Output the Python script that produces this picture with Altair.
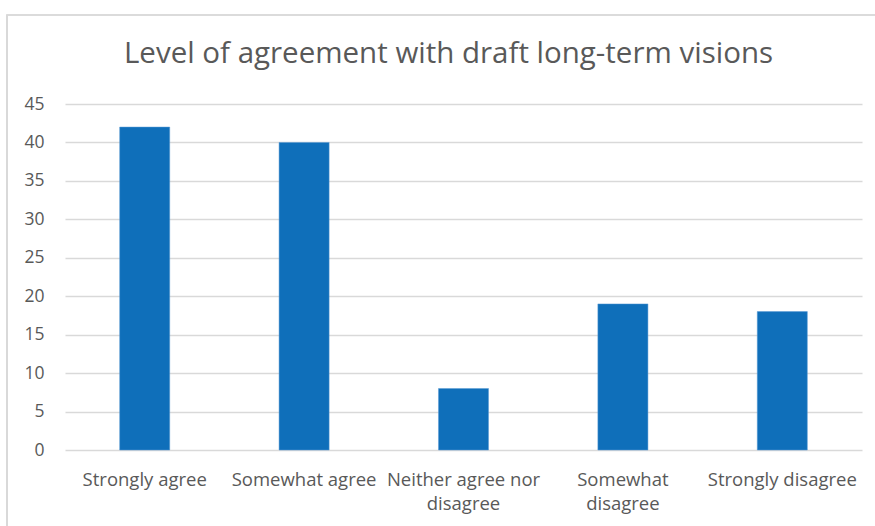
import altair as alt
import pandas as pd

categories = ["Strongly agree", "Somewhat agree", "Neither agree nor disagree",
              "Somewhat disagree", "Strongly disagree"]
values = [42, 40, 8, 19, 18]

df = pd.DataFrame({"category": categories, "value": values})

FONT = "Open Sans"
GREY = "#595959"

label_expr = ("datum.label == 'Neither agree nor disagree' ? ['Neither agree nor', 'disagree'] : "
              "datum.label == 'Somewhat disagree' ? ['Somewhat', 'disagree'] : datum.label")

bars = alt.Chart(df).mark_bar(color="#0F6FBA", stroke="#5B9BD5", strokeWidth=0.5).encode(
    x=alt.X("category:N", sort=categories,
            scale=alt.Scale(paddingInner=0.686, paddingOuter=0.343),
            axis=alt.Axis(title=None, labelAngle=0, labelExpr=label_expr,
                          labelFont=FONT, labelFontSize=18.5, labelColor=GREY,
                          labelPadding=20, labelLineHeight=24,
                          ticks=False, domain=False, labelLimit=200)),
    y=alt.Y("value:Q", scale=alt.Scale(domain=[0, 45]),
            axis=alt.Axis(title=None, values=list(range(0, 46, 5)),
                          labelFont=FONT, labelFontSize=17.5, labelColor=GREY,
                          labelPadding=21, ticks=False, domain=False,
                          gridColor="#D9D9D9", gridWidth=1.3)),
)

border = alt.Chart(df).mark_rect(fill=None, stroke="#D9D9D9", strokeWidth=1.2).encode(
    x=alt.value(-58), x2=alt.value(830), y=alt.value(-89), y2=alt.value(440)
)

chart = alt.layer(bars, border).properties(
    width=797, height=346,
    padding={"left": 65, "top": 104, "right": 13, "bottom": 76},
    autosize=alt.AutoSizeParams(type="none"),
    title=alt.TitleParams("Level of agreement with draft long-term visions",
                          font=FONT, fontSize=29.5, fontWeight="normal",
                          color=GREY, anchor="middle", offset=-55, dx=-15),
).configure_view(stroke=None)

chart.save("out.html", embed_options={"renderer": "svg", "actions": False})
